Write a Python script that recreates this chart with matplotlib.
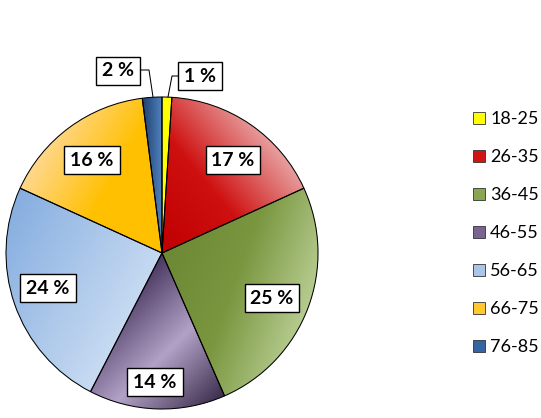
import numpy as np
import matplotlib.pyplot as plt
from matplotlib.colors import LinearSegmentedColormap
from matplotlib.patches import Patch

plt.rcParams['font.family'] = ['Lato', 'DejaVu Sans']

# data
age_groups = ['18-25', '26-35', '36-45', '46-55', '56-65', '66-75', '76-85']
shares = [1, 17, 25, 14, 24, 16, 2]
pct_labels = [f'{v} %' for v in shares]

# style: gradient stops per slice and gradient direction (degrees)
grad_stops = [
    ['#FFFF00', '#FFFF00'],
    ['#C00000', '#CF1010', '#E8A3A3'],
    ['#6C8834', '#7A963F', '#B6CC90'],
    ['#4A3862', '#B3A2C7', '#3A2C4C'],
    ['#86AEE0', '#C8DBF2'],
    ['#FFD890', '#FFC000', '#FFC000'],
    ['#1F3F6E', '#4F81BD'],
]
grad_angle = [0, 40, -20, -45, -30, -30, 0]
legend_cols = ['#FFFF00', '#D01515', '#8AA650', '#7A6494', '#A9C6EA', '#FFC830', '#3565A0']

# label centres (pixel coords, y from top)
label_pos = [(200, 76), (233, 160), (272, 298), (155, 382), (48, 288), (92, 160), (118, 71)]

W, H = 541, 418
cx, cy, R = 162, H - 253, 156

fig = plt.figure(figsize=(W / 100, H / 100), dpi=100)
ax = fig.add_axes([0, 0, 1, 1])

wedges, _ = ax.pie(shares, startangle=90, counterclock=False, center=(cx, cy), radius=R,
                   wedgeprops=dict(edgecolor='black', linewidth=0.75))

for w, stops, ang in zip(wedges, grad_stops, grad_angle):
    verts = w.get_path().vertices
    x0, y0 = verts.min(axis=0)
    x1, y1 = verts.max(axis=0)
    d = np.array([np.cos(np.radians(ang)), np.sin(np.radians(ang))])
    proj = verts @ d
    xs = np.linspace(x0, x1, 200)
    ys = np.linspace(y0, y1, 200)
    X, Y = np.meshgrid(xs, ys)
    t = (X * d[0] + Y * d[1] - proj.min()) / max(proj.max() - proj.min(), 1e-9)
    cmap = LinearSegmentedColormap.from_list('g', stops)
    im = ax.imshow(t, cmap=cmap, vmin=0, vmax=1, extent=(x0, x1, y0, y1), origin='lower',
                   interpolation='bilinear', zorder=0.5)
    im.set_clip_path(w)
    w.set_facecolor('none')
    w.set_zorder(1)

for txt, (px, py) in zip(pct_labels, label_pos):
    ax.text(px, H - py, txt, ha='center', va='center', fontsize=14, fontweight='bold',
            bbox=dict(boxstyle='square,pad=0.3', fc='white', ec='black', lw=1), zorder=3)

# leader lines for the small slices
ax.plot([179, 172, 168], [H - 76, H - 76, H - 97], color='black', lw=0.75, zorder=2)
ax.plot([140, 149, 153], [H - 70, H - 70, H - 97], color='black', lw=0.75, zorder=2)

handles = [Patch(facecolor=c, edgecolor='#333333', lw=0.6) for c in legend_cols]
ax.legend(handles, age_groups, loc='center left', bbox_to_anchor=(473, H - 233),
          bbox_transform=ax.transData, frameon=False, fontsize=13, borderpad=0,
          borderaxespad=0, labelspacing=1.22, handlelength=0.65, handleheight=0.65,
          handletextpad=0.3)

ax.set_xlim(0, W)
ax.set_ylim(0, H)
ax.set_aspect('equal')
ax.axis('off')

fig.savefig('out.png', dpi=100)
